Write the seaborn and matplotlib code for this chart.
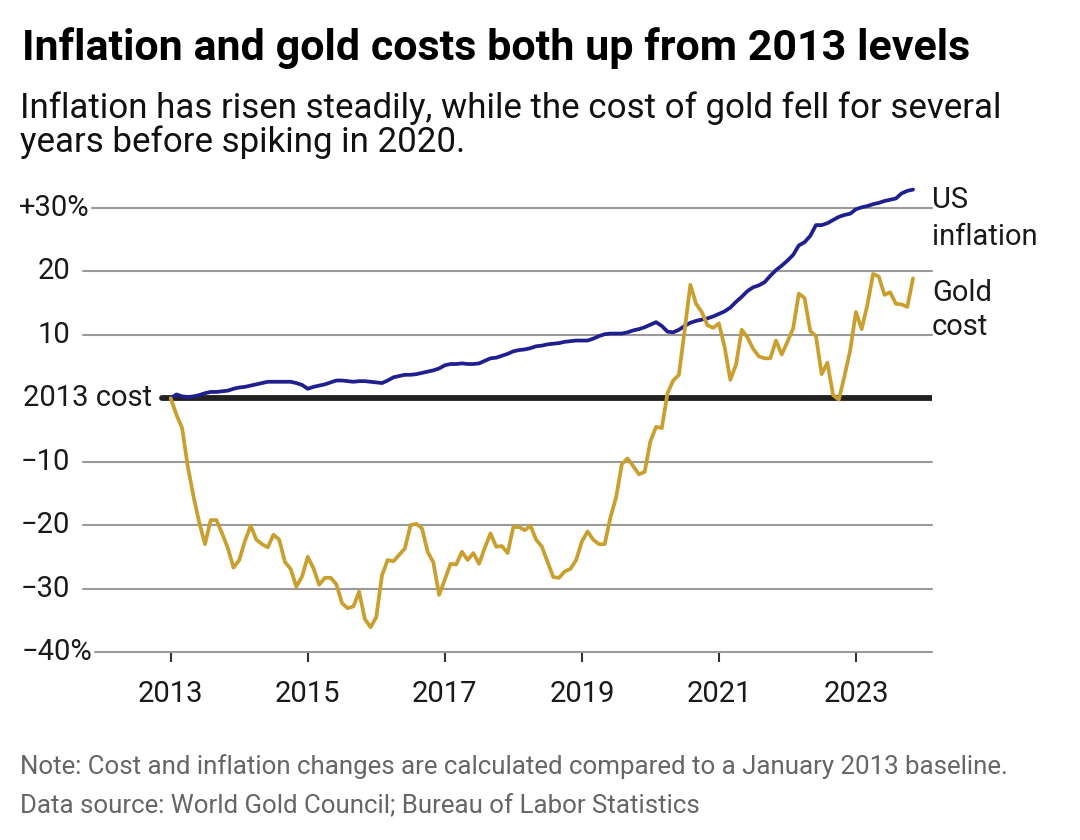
import numpy as np
import pandas as pd
import matplotlib.pyplot as plt
import seaborn as sns

# % change compared to January 2013, monthly, Jan 2013 - Nov 2023
gold_cost = [
    0.0, -2.6, -4.7, -10.8, -15.5, -19.6, -23.0, -19.2, -19.2, -21.3, -23.6, -26.7,   # 2013
    -25.5, -22.5, -20.1, -22.3, -23.0, -23.5, -21.5, -22.3, -25.8, -26.9, -29.7, -28.1,  # 2014
    -25.0, -26.8, -29.4, -28.3, -28.3, -29.3, -32.3, -33.1, -32.8, -30.5, -34.8, -36.1,  # 2015
    -34.5, -27.9, -25.5, -25.7, -24.7, -23.7, -20.0, -19.8, -20.5, -24.2, -25.9, -31.0,  # 2016
    -28.6, -26.1, -26.2, -24.2, -25.5, -24.4, -26.1, -23.6, -21.3, -23.4, -23.3, -24.4,  # 2017
    -20.3, -20.3, -20.8, -20.1, -22.3, -23.4, -25.8, -28.2, -28.3, -27.3, -26.9, -25.5,  # 2018
    -22.6, -21.0, -22.3, -23.0, -23.0, -18.8, -15.6, -10.4, -9.5, -10.7, -12.0, -11.6,   # 2019
    -6.8, -4.5, -4.7, 0.8, 2.8, 3.7, 10.7, 17.9, 14.9, 13.6, 11.5, 11.1,                 # 2020
    11.8, 8.1, 2.9, 5.3, 10.8, 9.6, 7.8, 6.6, 6.3, 6.3, 9.1, 6.9,                        # 2021
    8.9, 11.0, 16.5, 15.8, 10.6, 9.8, 3.8, 5.6, 0.5, -0.2, 3.5, 7.6,                     # 2022
    13.6, 10.9, 14.7, 19.6, 19.2, 16.3, 16.7, 14.9, 14.8, 14.4, 18.9,                    # 2023
]
us_inflation = [
    0.0, 0.6, 0.3, 0.2, 0.3, 0.5, 0.8, 1.0, 1.0, 1.1, 1.2, 1.5,          # 2013
    1.7, 1.8, 2.0, 2.2, 2.4, 2.6, 2.6, 2.6, 2.6, 2.6, 2.4, 2.1,          # 2014
    1.5, 1.8, 2.0, 2.2, 2.5, 2.8, 2.8, 2.7, 2.6, 2.7, 2.7, 2.6,          # 2015
    2.5, 2.4, 2.8, 3.3, 3.5, 3.7, 3.7, 3.8, 4.0, 4.2, 4.4, 4.7,          # 2016
    5.2, 5.4, 5.4, 5.5, 5.4, 5.4, 5.5, 5.9, 6.3, 6.4, 6.7, 7.0,          # 2017
    7.4, 7.6, 7.7, 7.9, 8.2, 8.3, 8.5, 8.6, 8.7, 8.9, 9.0, 9.1,          # 2018
    9.1, 9.1, 9.4, 9.8, 10.1, 10.2, 10.2, 10.2, 10.4, 10.7, 10.9, 11.2,  # 2019
    11.6, 12.0, 11.4, 10.5, 10.4, 10.8, 11.4, 11.9, 12.2, 12.4, 12.6, 12.9,  # 2020
    13.3, 13.7, 14.3, 15.2, 16.0, 16.9, 17.5, 17.8, 18.3, 19.3, 20.2, 20.9,  # 2021
    21.7, 22.6, 24.1, 24.6, 25.6, 27.3, 27.3, 27.6, 28.1, 28.6, 28.9, 29.1,  # 2022
    29.8, 30.1, 30.3, 30.6, 30.8, 31.1, 31.3, 31.5, 32.3, 32.7, 32.9,        # 2023
]
start_year = 2013
year_ticks = [2013, 2015, 2017, 2019, 2021, 2023]
y_ticks = [30, 20, 10, 0, -10, -20, -30, -40]
y_labels = ["+30%", "20", "10", "2013 cost", "\u221210", "\u221220", "\u221230", "\u221240%"]

df = pd.DataFrame({
    "year": start_year + np.arange(len(gold_cost)) / 12,
    "gold": gold_cost,
    "inflation": us_inflation,
})

sns.set_theme(style="white")
plt.rcParams["font.family"] = ["Roboto", "DejaVu Sans"]

W, H = 1080, 840
fig = plt.figure(figsize=(W / 100, H / 100), dpi=100)
ax_l, ax_r, ax_b, ax_t = 83, 932, 652, 182.6
ax = fig.add_axes([ax_l / W, 1 - ax_b / H, (ax_r - ax_l) / W, (ax_b - ax_t) / H])
ax.set_xlim(2011.72, 2024.11)
ax.set_ylim(-40, 34)

def px_to_ax(px):
    return (px - ax_l) / (ax_r - ax_l)

# grid lines and y labels (drawn by hand, datawrapper style)
grid_start = {30: 92, 0: 162, -40: 95}
label_right = {30: 90, 0: 152, -40: 92}
for v, lab in zip(y_ticks, y_labels):
    xs = px_to_ax(grid_start.get(v, 83))
    if v == 0:
        ax.axhline(v, xmin=xs, color="#222222", lw=4.2, zorder=2)
    else:
        ax.axhline(v, xmin=xs, color="#9a9a9a", lw=1.5, zorder=1, clip_on=False)
    ax.text(px_to_ax(label_right.get(v, 70)), v, lab, transform=ax.get_yaxis_transform(),
            ha="right", va="center", fontsize=21, color="#1a1a1a")

sns.lineplot(data=df, x="year", y="inflation", color="#1f1f8f", lw=2.7, ax=ax, zorder=3)
sns.lineplot(data=df, x="year", y="gold", color="#c9a030", lw=2.7, ax=ax, zorder=4)

ax.set_xticks(year_ticks)
ax.set_xticklabels([str(y) for y in year_ticks], fontsize=21, color="#1a1a1a")
ax.set_yticks([])
ax.tick_params(axis="x", bottom=True, length=7, width=1.5, color="#333333", pad=13)
ax.set_xlabel("")
ax.set_ylabel("")
for s in ax.spines.values():
    s.set_visible(False)

# series labels
lab_kw = dict(fontsize=21, color="#1a1a1a", va="baseline", ha="left")
fig.text(932 / W, 1 - 208 / H, "US", **lab_kw)
fig.text(932 / W, 1 - 245 / H, "inflation", **lab_kw)
fig.text(932 / W, 1 - 301 / H, "Gold", **lab_kw)
fig.text(932 / W, 1 - 335 / H, "cost", **lab_kw)

# titles and notes
fig.text(22 / W, 1 - 60 / H, "Inflation and gold costs both up from 2013 levels",
         fontsize=31, fontweight="bold", color="#000000", va="baseline")
fig.text(20 / W, 1 - 118 / H, "Inflation has risen steadily, while the cost of gold fell for several",
         fontsize=25.1, color="#111111", va="baseline")
fig.text(20 / W, 1 - 152 / H, "years before spiking in 2020.",
         fontsize=25.1, color="#111111", va="baseline")
fig.text(20 / W, 1 - 774 / H,
         "Note: Cost and inflation changes are calculated compared to a January 2013 baseline.",
         fontsize=18.6, color="#666666", va="baseline")
fig.text(20 / W, 1 - 813 / H, "Data source: World Gold Council; Bureau of Labor Statistics",
         fontsize=18.6, color="#666666", va="baseline")

fig.savefig("out.png", dpi=100, facecolor="white")
